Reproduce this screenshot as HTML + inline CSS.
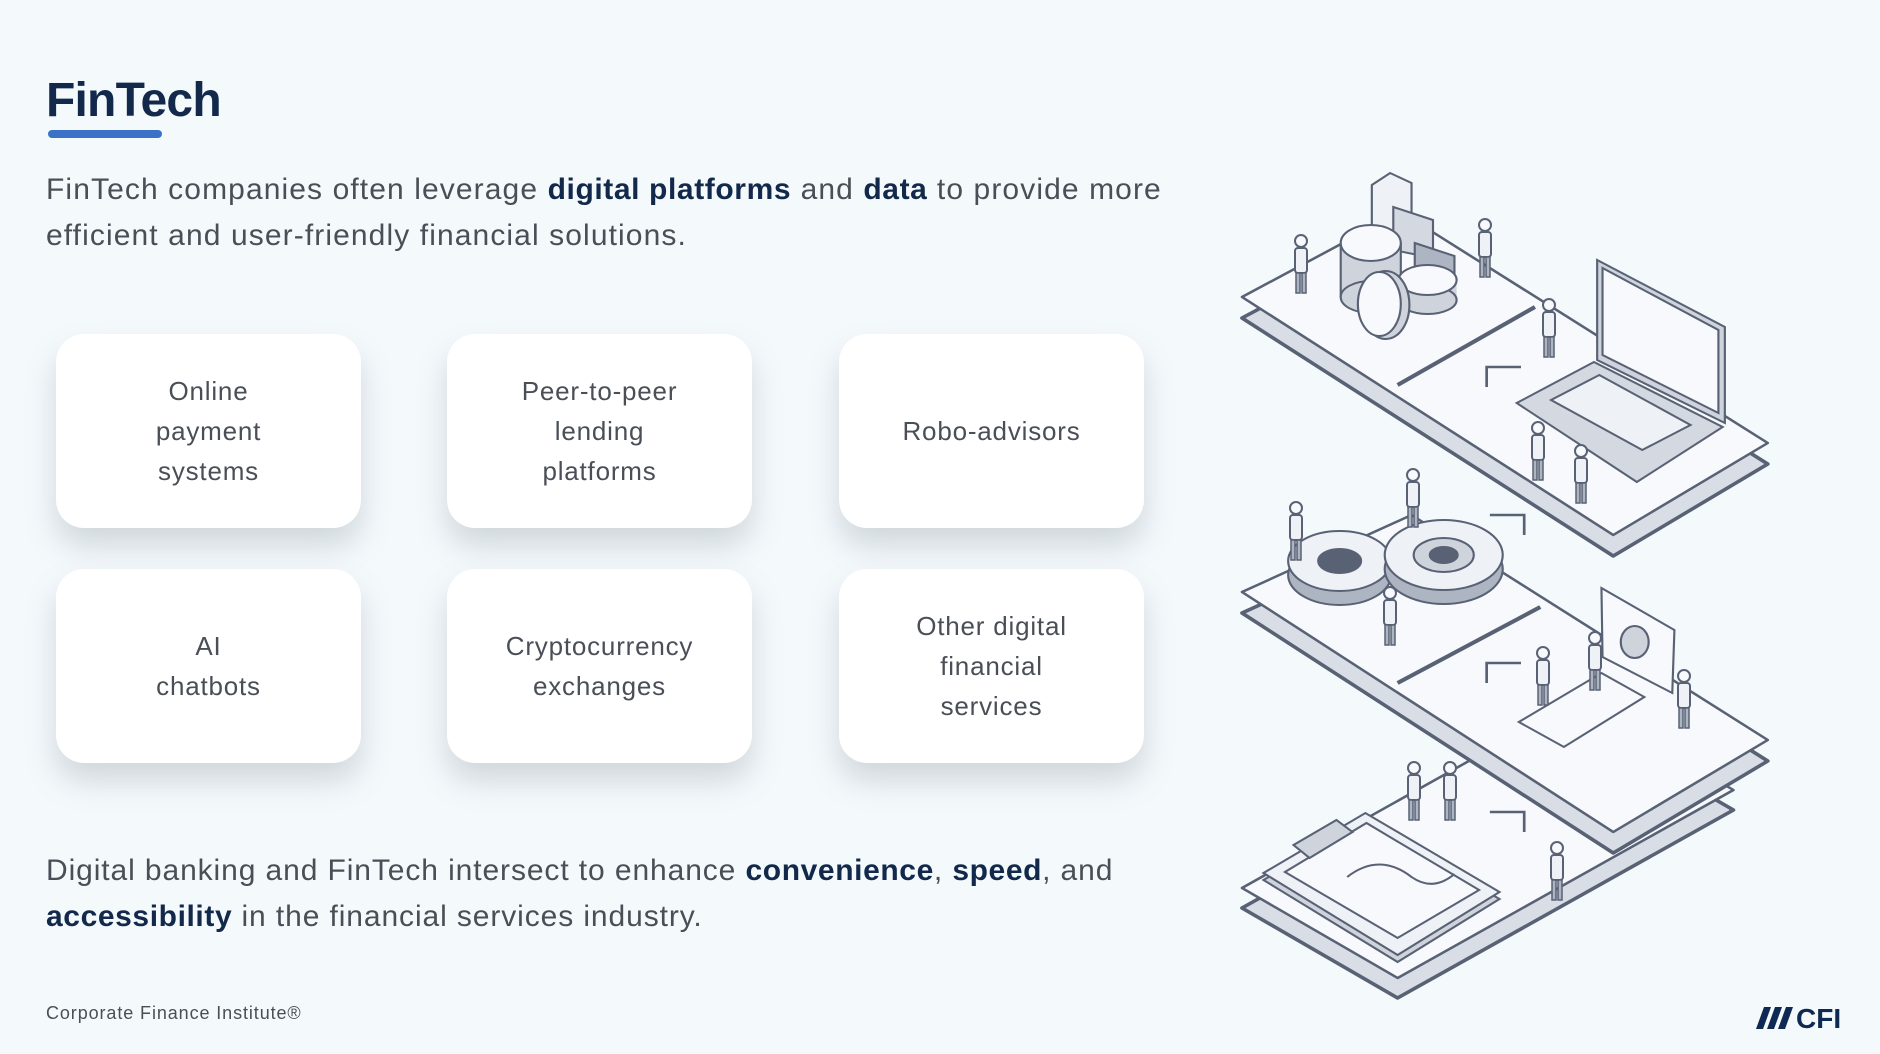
<!DOCTYPE html>
<html><head><meta charset="utf-8"><style>
*{margin:0;padding:0;box-sizing:border-box}
body{width:1880px;height:1054px;background:#f4f9fc;font-family:"Liberation Sans",sans-serif;position:relative;overflow:hidden;color:#4a4f57}
.t{position:absolute;left:46px;top:73px;font-size:48px;font-weight:bold;color:#13294b;letter-spacing:-0.8px}
.ul{position:absolute;left:48px;top:130px;width:114px;height:8px;border-radius:4px;background:#3a72c8}
.p{position:absolute;left:46px;font-size:30px;line-height:46px;letter-spacing:1.1px;white-space:nowrap}
.p b{color:#13294b;letter-spacing:0.6px}
.c{position:absolute;width:305px;height:194px;background:#fff;border-radius:28px;box-shadow:0 18px 30px rgba(120,130,140,0.28);display:flex;align-items:center;justify-content:center;text-align:center;font-size:26px;line-height:40px;letter-spacing:0.8px;color:#4a4f57}
.f{position:absolute;left:46px;top:1003px;font-size:18px;letter-spacing:0.9px;color:#4a4f57}
</style></head><body>
<div class="t">FinTech</div>
<div class="ul"></div>
<div class="p" style="top:167px">FinTech companies often leverage <b>digital platforms</b> and <b>data</b> to provide more<br>efficient and user-friendly financial solutions.</div>
<div class="c" style="left:56px;top:334px">Online<br>payment<br>systems</div>
<div class="c" style="left:447px;top:334px">Peer-to-peer<br>lending<br>platforms</div>
<div class="c" style="left:839px;top:334px">Robo-advisors</div>
<div class="c" style="left:56px;top:569px">AI<br>chatbots</div>
<div class="c" style="left:447px;top:569px">Cryptocurrency<br>exchanges</div>
<div class="c" style="left:839px;top:569px">Other digital<br>financial<br>services</div>
<div class="p" style="top:848px;letter-spacing:0.9px">Digital banking and FinTech intersect to enhance <b>convenience</b>, <b>speed</b>, and<br><b>accessibility</b> in the financial services industry.</div>
<div class="f">Corporate Finance Institute®</div>
<svg style="position:absolute;left:0;top:0" width="1880" height="1054">
<defs>
<g id="pp"><circle cx="0" cy="-52" r="6" fill="#f7f9fc" stroke="#596275" stroke-width="2"/><rect x="-6" y="-45" width="12" height="25" rx="3" fill="#eef1f5" stroke="#596275" stroke-width="2"/><rect x="-5" y="-20" width="4" height="20" fill="#aeb5c2" stroke="#596275" stroke-width="1.5"/><rect x="1" y="-20" width="4" height="20" fill="#aeb5c2" stroke="#596275" stroke-width="1.5"/></g>
</defs>
<g transform="translate(1242,0) scale(1.073,1) translate(-1242,0)">
<g stroke="#596275" stroke-width="2.5" stroke-linejoin="round">
<polygon points="1242,908 1387,998 1700,810 1555,720" fill="#d9dee6" stroke-width="3.5"/>
<polygon points="1242,888 1387,978 1700,790 1555,700" fill="#f7f9fc"/>
<polygon points="1242,613 1588,853 1732,761 1400,536" fill="#d9dee6" stroke-width="3.5"/>
<polygon points="1242,592 1588,832 1732,740 1400,515" fill="#f7f9fc"/>
<polyline points="1387,683 1520,607" fill="none" stroke-width="4"/>
<polygon points="1242,318 1588,556 1732,464 1390,233" fill="#d9dee6" stroke-width="3.5"/>
<polygon points="1242,297 1588,535 1732,443 1390,212" fill="#f7f9fc"/>
<polyline points="1387,385 1515,307" fill="none" stroke-width="4"/>
</g>
<g fill="none" stroke="#596275" stroke-width="2.5">
<polyline points="1470,387 1470,367 1502,367"/><polyline points="1473,515 1505,515 1505,535"/>
<polyline points="1470,683 1470,663 1502,663"/><polyline points="1473,812 1505,812 1505,832"/>
</g>
<g fill="#d4d8e0" stroke="#596275" stroke-width="2">
<polygon points="1363,185 1380,173 1400,183 1400,250 1363,250" fill="#eef1f5"/><polygon points="1383,207 1420,220 1420,258 1383,250"/>
<polygon points="1403,243 1440,256 1440,290 1403,280" fill="#aeb5c2"/>
<rect x="1334" y="243" width="56" height="54" fill="#cfd4dc" stroke="none"/><line x1="1334" y1="243" x2="1334" y2="297"/><line x1="1390" y1="243" x2="1390" y2="297"/><ellipse cx="1362" cy="297" rx="28" ry="16" fill="#cfd4dc"/><ellipse cx="1362" cy="243" rx="28" ry="18" fill="#f7f9fc"/>
<rect x="1388" y="280" width="54" height="20" fill="#cfd4dc" stroke="none"/><ellipse cx="1415" cy="300" rx="27" ry="14" fill="#cfd4dc"/><ellipse cx="1415" cy="280" rx="27" ry="15" fill="#f7f9fc"/>
<ellipse cx="1376" cy="305" rx="22" ry="34" fill="#cfd4dc"/><ellipse cx="1370" cy="304" rx="20" ry="32" fill="#f7f9fc"/>
<polygon points="1573,260 1692,327 1692,423 1573,360" fill="#cfd4dc"/><polygon points="1578,268 1686,330 1686,413 1578,355" fill="#f7f9fc"/>
<polygon points="1498,403 1570,362 1690,427 1610,482" fill="#d4d8e0"/><polygon points="1530,400 1575,375 1660,425 1615,450" fill="#eef1f5"/>
<ellipse cx="1333" cy="575" rx="48" ry="30" fill="#aeb5c2"/><ellipse cx="1333" cy="561" rx="48" ry="30" fill="#eef1f5"/><ellipse cx="1333" cy="561" rx="20" ry="12" fill="#596275"/>
<ellipse cx="1430" cy="569" rx="55" ry="35" fill="#aeb5c2"/><ellipse cx="1430" cy="555" rx="55" ry="35" fill="#eef1f5"/><ellipse cx="1430" cy="555" rx="28" ry="17" fill="#cfd4dc"/><ellipse cx="1430" cy="555" rx="13" ry="8" fill="#596275"/>
<polygon points="1577,588 1645,630 1643,693 1578,657" fill="#f7f9fc"/><ellipse cx="1608" cy="642" rx="13" ry="16" fill="#cfd4dc"/>
<polygon points="1500,722 1577,673 1617,697 1542,747" fill="#f7f9fc"/>
<polygon points="1262,880 1357,820 1482,899 1387,962" fill="#cfd4dc"/>
<polygon points="1262,873 1357,813 1482,892 1387,955" fill="#eef1f5"/>
<polygon points="1282,872 1358,823 1463,890 1387,938" fill="#f7f9fc"/>
<polygon points="1290,845 1330,820 1345,832 1305,858" fill="#cfd4dc"/>
<path d="M1340,877 q30,-25 60,0 q20,15 40,-3" fill="none"/>
</g>
</g>
<g>
<use href="#pp" x="1301" y="293"/><use href="#pp" x="1485" y="277"/><use href="#pp" x="1549" y="357"/><use href="#pp" x="1538" y="480"/><use href="#pp" x="1581" y="503"/><use href="#pp" x="1413" y="527"/><use href="#pp" x="1296" y="560"/><use href="#pp" x="1390" y="645"/><use href="#pp" x="1684" y="728"/><use href="#pp" x="1414" y="820"/><use href="#pp" x="1450" y="820"/><use href="#pp" x="1557" y="900"/><use href="#pp" x="1543" y="705"/><use href="#pp" x="1595" y="690"/>
</g>
<g fill="#0f2a52"><polygon points="1756,1029 1764,1007 1771,1007 1763,1029"/><polygon points="1767,1029 1775,1007 1782,1007 1774,1029"/><polygon points="1778,1029 1786,1007 1793,1007 1785,1029"/>
<text x="1796" y="1028" font-family="Liberation Sans" font-weight="bold" font-size="28">CFI</text></g>
</svg>
</body></html>
